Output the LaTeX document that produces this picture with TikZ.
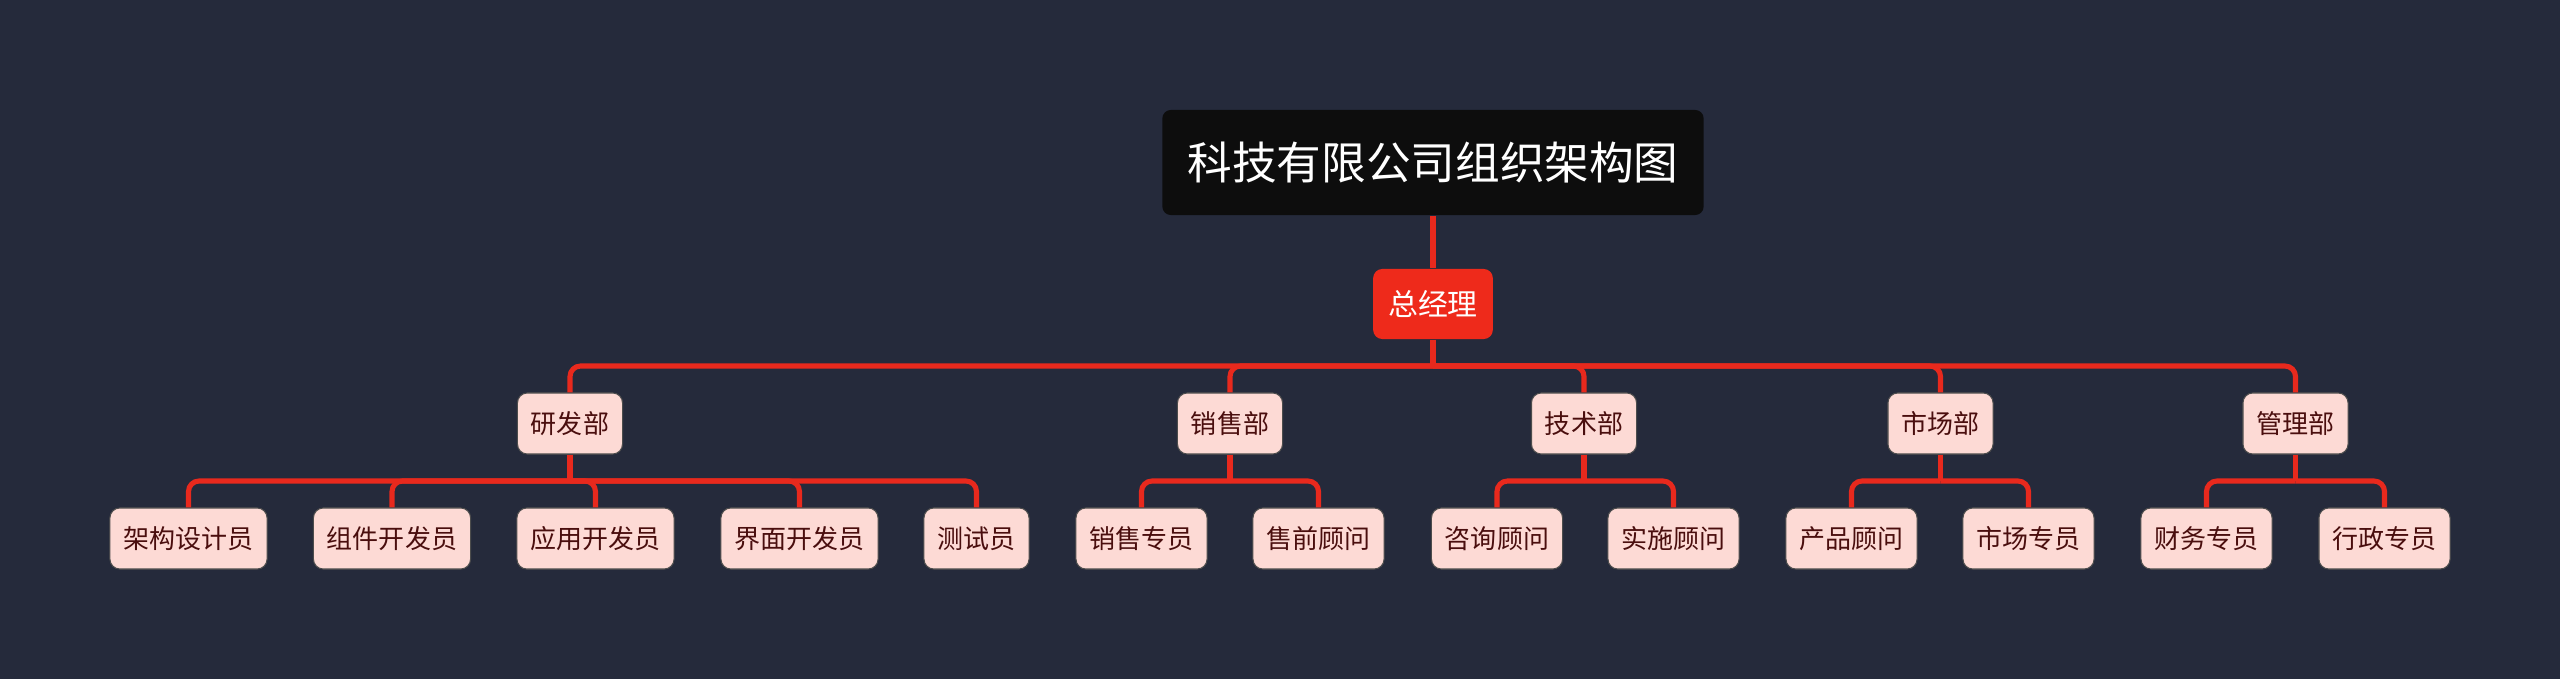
\documentclass[tikz,border=0pt]{standalone}
\usepackage{fontspec}
\setmainfont{Noto Sans CJK SC}
\definecolor{bgnavy}{HTML}{252A3B}
\definecolor{linkred}{HTML}{E8291D}
\definecolor{gmred}{HTML}{EE2A1B}
\definecolor{boxpink}{HTML}{FDDAD5}
\definecolor{textbrown}{HTML}{4A0E0E}
\begin{document}
\begin{tikzpicture}[
            x=0.01cm,
            y=-0.01cm,
            titlebox/.style={fill=black!95, text=white, rounded corners=2.4pt,
                minimum height=1.05cm, inner xsep=0.25cm,
                font=\fontsize{12.7pt}{15pt}\selectfont},
            gmbox/.style={fill=gmred, text=white, rounded corners=2.6pt,
                minimum height=0.70cm, inner xsep=0.15cm,
                font=\fontsize{8.5pt}{10pt}\selectfont},
            orgbox/.style={fill=boxpink, draw=black!70, line width=0.3pt,
                text=textbrown, rounded corners=2.8pt,
                minimum height=0.61cm, inner xsep=0.135cm,
                font=\fontsize{7.4pt}{9pt}\selectfont},
            link/.style={draw=linkred, line width=1.45pt, rounded corners=3pt}
        ]
        \useasboundingbox[fill=bgnavy] (0,0) rectangle (2560,679);

        \node[titlebox] (root) at (1433,162.5) {科技有限公司组织架构图};
        \node[gmbox] (gm) at (1433,304) {总经理};

        \node[orgbox] (rd) at (570,423.5) {研发部};
        \node[orgbox] (sales) at (1230,423.5) {销售部};
        \node[orgbox] (tech) at (1584,423.5) {技术部};
        \node[orgbox] (mkt) at (1940.5,423.5) {市场部};
        \node[orgbox] (admin) at (2295.5,423.5) {管理部};

        \node[orgbox] (rd1) at (188.5,538.5) {架构设计员};
        \node[orgbox] (rd2) at (392,538.5) {组件开发员};
        \node[orgbox] (rd3) at (595.5,538.5) {应用开发员};
        \node[orgbox] (rd4) at (799.5,538.5) {界面开发员};
        \node[orgbox] (rd5) at (976.5,538.5) {测试员};
        \node[orgbox] (sales1) at (1141.5,538.5) {销售专员};
        \node[orgbox] (sales2) at (1318.5,538.5) {售前顾问};
        \node[orgbox] (tech1) at (1497,538.5) {咨询顾问};
        \node[orgbox] (tech2) at (1673.5,538.5) {实施顾问};
        \node[orgbox] (mkt1) at (1851.5,538.5) {产品顾问};
        \node[orgbox] (mkt2) at (2028.5,538.5) {市场专员};
        \node[orgbox] (admin1) at (2206.5,538.5) {财务专员};
        \node[orgbox] (admin2) at (2384.5,538.5) {行政专员};

        \coordinate (gmbus) at (1433,366);
        \coordinate (rdbus) at (570,481);
        \coordinate (salesbus) at (1230,481);
        \coordinate (techbus) at (1584,481);
        \coordinate (mktbus) at (1940.5,481);
        \coordinate (adminbus) at (2295.5,481);

        \draw[link] (root) -- (gm);
        \draw[link] (gm) -- (gmbus);
        \foreach \d in {rd,sales,tech,mkt,admin} {
            \draw[link] (gmbus) -| (\d.north);
            \draw[link] (\d) -- (\d bus);
        }
        \foreach \c in {rd1,rd2,rd3,rd4,rd5}
            \draw[link] (rdbus) -| (\c.north);
        \foreach \p in {sales,tech,mkt,admin} {
            \draw[link] (\p bus) -| (\p1.north);
            \draw[link] (\p bus) -| (\p2.north);
        }
    \end{tikzpicture}
\end{document}
